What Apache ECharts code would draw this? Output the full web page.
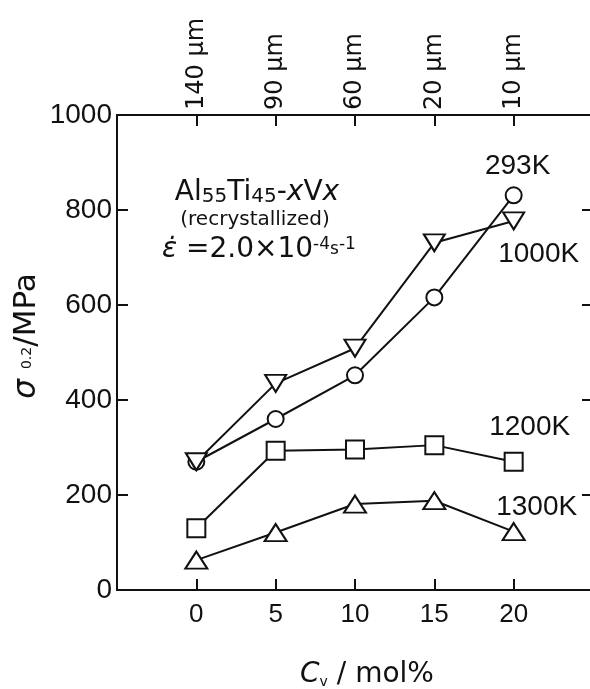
<!DOCTYPE html>
<html>
<head>
<meta charset="utf-8">
<script src="https://cdn.jsdelivr.net/npm/echarts@6/dist/echarts.min.js"></script>
<style>
html,body{margin:0;padding:0;background:#fff;}
#c{width:590px;height:689px;}
</style>
</head>
<body>
<div id="c"></div>
<script>
var cv = [0, 5, 10, 15, 20];
var topLabels = ['140 μm', '90 μm', '60 μm', '20 μm', '10 μm'];
var yTicks = [0, 200, 400, 600, 800, 1000];
var s293 = [270, 360, 452, 616, 831];
var s1000 = [270, 435, 509, 731, 777];
var s1200 = [130, 293, 296, 305, 270];
var s1300 = [63, 121, 181, 188, 123];
var seriesNames = ['293K', '1000K', '1200K', '1300K'];

var FONT = 'Liberation Sans, Arial, Helvetica, sans-serif';
var WIDE = 'DejaVu Sans, Verdana, sans-serif';

function pairs(vals) {
  return vals.map(function (v, i) { return [cv[i], v]; });
}

function withEndLabel(vals, name, offset) {
  var d = pairs(vals);
  d[d.length - 1] = {
    value: d[d.length - 1],
    label: {
      show: true, formatter: name, position: 'inside', offset: offset,
      color: '#111', fontSize: 28, fontFamily: FONT
    }
  };
  return d;
}

var lineStyle = { color: '#111', width: 2 };
var itemStyle = { color: '#fff', borderColor: '#111', borderWidth: 2 };
var tickStyle = { show: true, inside: true, length: 11, lineStyle: { color: '#111', width: 2 } };
var axLine = { show: true, onZero: false, lineStyle: { color: '#111', width: 2 } };

var chart = echarts.init(document.getElementById('c'), null, { renderer: 'canvas' });
chart.setOption({
  backgroundColor: '#fff',
  animation: false,
  textStyle: { fontFamily: FONT },
  grid: { left: 117, width: 476, top: 115, bottom: 99, containLabel: false, outerBoundsMode: 'none' },
  xAxis: [{
    type: 'value', position: 'bottom', min: -5, max: 25, interval: 5,
    axisLine: axLine, axisTick: tickStyle,
    splitLine: { show: false },
    axisLabel: {
      color: '#111', fontSize: 26, fontFamily: FONT, margin: 12,
      formatter: function (v) { return (v >= 0 && v <= 20) ? String(v) : ''; }
    }
  }, {
    type: 'value', position: 'top', min: -5, max: 25, interval: 5,
    axisLine: axLine, axisTick: tickStyle,
    splitLine: { show: false },
    axisLabel: {
      color: '#111', fontSize: 24, fontFamily: WIDE, margin: 5, rotate: -90,
      formatter: function (v) {
        var i = cv.indexOf(v);
        return i >= 0 ? topLabels[i] : '';
      }
    }
  }],
  yAxis: [{
    type: 'value', position: 'left', min: 0, max: 1000, interval: 200,
    axisLine: axLine, axisTick: tickStyle,
    splitLine: { show: false },
    axisLabel: {
      color: '#111', fontSize: 28, fontFamily: FONT, margin: 5,
      formatter: function (v) { return yTicks.indexOf(v) >= 0 ? String(v) : ''; }
    }
  }, {
    type: 'value', position: 'right', min: 0, max: 1000, interval: 200,
    axisLine: { show: false, onZero: false }, axisTick: tickStyle,
    splitLine: { show: false },
    axisLabel: { show: false }
  }],
  series: [{
    name: seriesNames[0], type: 'line', symbol: 'circle', symbolSize: 16,
    lineStyle: lineStyle, itemStyle: itemStyle,
    data: withEndLabel(s293, seriesNames[0], [4, -29]), z: 3
  }, {
    name: seriesNames[1], type: 'line', symbol: 'triangle', symbolSize: [21, 17], symbolRotate: 180,
    lineStyle: lineStyle, itemStyle: itemStyle,
    data: withEndLabel(s1000, seriesNames[1], [25, 33]), z: 3
  }, {
    name: seriesNames[2], type: 'line', symbol: 'rect', symbolSize: 18,
    lineStyle: lineStyle, itemStyle: itemStyle,
    data: withEndLabel(s1200, seriesNames[2], [16, -34]), z: 3
  }, {
    name: seriesNames[3], type: 'line', symbol: 'triangle', symbolSize: [22, 17],
    lineStyle: lineStyle, itemStyle: itemStyle,
    data: withEndLabel(s1300, seriesNames[3], [23, -24]), z: 3
  }],
  graphic: [{
    type: 'text', x: 27, y: 336, rotation: Math.PI / 2, z: 10,
    style: {
      text: '{i|σ}{s|0.2}{n|/MPa}',
      align: 'center', verticalAlign: 'middle',
      fill: '#111', fontSize: 31, fontFamily: WIDE,
      rich: {
        i: { fontSize: 31, fontStyle: 'italic', fontFamily: WIDE, fill: '#111', padding: [0, 10, 0, 0] },
        s: { fontSize: 14, fontFamily: WIDE, fill: '#111', verticalAlign: 'middle' },
        n: { fontSize: 31, fontFamily: WIDE, fill: '#111' }
      }
    }
  }, {
    type: 'text', x: 367, y: 675, z: 10,
    style: {
      text: '{i|C}{s|v} / mol%',
      align: 'center', verticalAlign: 'middle',
      fill: '#111', fontSize: 28, fontFamily: WIDE,
      rich: {
        i: { fontSize: 28, fontStyle: 'italic', fontFamily: WIDE, fill: '#111' },
        s: { fontSize: 14, fontFamily: WIDE, fill: '#111', verticalAlign: 'bottom', padding: [10, 0, 0, 0] }
      }
    }
  }, {
    type: 'text', x: 257, y: 193, z: 10,
    style: {
      text: 'Al{s|55}Ti{s|45}-{i|x}V{i|x}',
      align: 'center', verticalAlign: 'middle',
      fill: '#111', fontSize: 28, fontFamily: WIDE,
      rich: {
        s: { fontSize: 20, fontFamily: WIDE, fill: '#111', verticalAlign: 'bottom' },
        i: { fontSize: 28, fontStyle: 'italic', fontFamily: WIDE, fill: '#111' }
      }
    }
  }, {
    type: 'text', x: 255, y: 220, z: 10,
    style: { text: '(recrystallized)', align: 'center', verticalAlign: 'middle', fill: '#111', fontSize: 20, fontFamily: WIDE }
  }, {
    type: 'text', x: 162, y: 250, z: 10,
    style: {
      text: '{i|ε̇} =2.0×10{p|-4}{q|s}{p|-1}',
      align: 'left', verticalAlign: 'middle',
      fill: '#111', fontSize: 28, fontFamily: WIDE,
      rich: {
        i: { fontSize: 28, fontStyle: 'italic', fontFamily: WIDE, fill: '#111' },
        p: { fontSize: 17, fontFamily: WIDE, fill: '#111', verticalAlign: 'top' },
        q: { fontSize: 17, fontFamily: WIDE, fill: '#111', verticalAlign: 'middle' }
      }
    }
  }]
});
</script>
</body>
</html>
